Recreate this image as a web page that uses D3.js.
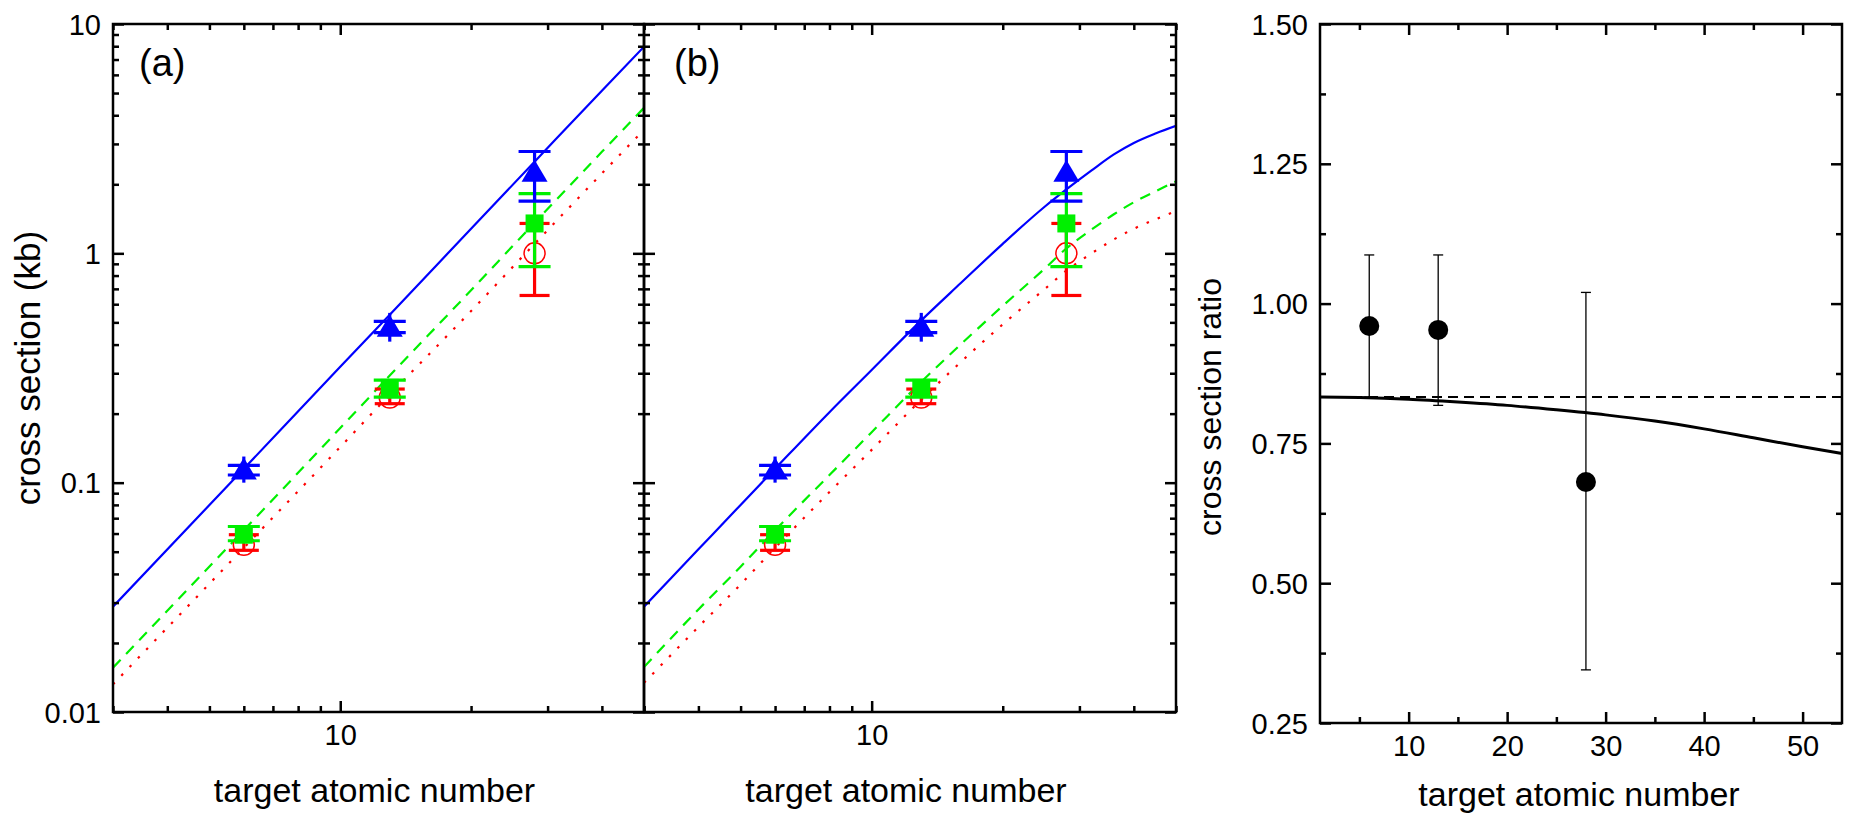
<!DOCTYPE html>
<html>
<head>
<meta charset="utf-8">
<script src="https://cdn.jsdelivr.net/npm/d3@7"></script>
<style>
  body { margin: 0; background: #fff; }
  text { font-family: "Liberation Sans", Arial, sans-serif; fill: #000; }
</style>
</head>
<body>
<svg id="chart" width="1852" height="818"></svg>
<script>
// ---- data ----
const targetZ = [6, 13, 28]

// measured cross sections (kb) with error bar ends
const blueVal = [0.114, 0.479, 2.27]
const blueLo  = [0.108, 0.451, 1.69]
const blueHi  = [0.119, 0.505, 2.78]
// full extent of the blue vertical stem
const blueStemLo = [0.100, 0.412, 1.69]
const blueStemHi = [0.130, 0.55, 2.78]

const greenVal = [0.0593, 0.259, 1.35]
const greenLo  = [0.0558, 0.236, 0.875]
const greenHi  = [0.0644, 0.280, 1.82]

const redVal = [0.0536, 0.235, 1.0]
const redLo  = [0.0507, 0.221, 0.655]
const redHi  = [0.0593, 0.256, 1.35]

// calculated curves, panel (a)
const curveZa      = [3, 6, 10, 13, 20, 28, 40, 50]
const blueCurveA   = [0.0288, 0.115, 0.32, 0.54, 1.28, 2.51, 5.12, 7.96]
const greenCurveA  = [0.0156, 0.062, 0.173, 0.293, 0.69, 1.36, 2.77, 4.31]
const redCurveA    = [0.0132, 0.052, 0.143, 0.242, 0.56, 1.10, 2.23, 3.46]

// calculated curves, panel (b)
const curveZb      = [3, 4, 5, 6, 8, 10, 13, 16, 20, 25, 28, 32, 36, 40, 45, 50]
const blueCurveB   = [0.0288, 0.0512, 0.080, 0.115, 0.203, 0.31, 0.51, 0.74, 1.10, 1.60, 1.90, 2.30, 2.70, 3.03, 3.34, 3.60]
const greenCurveB  = [0.0157, 0.028, 0.043, 0.062, 0.108, 0.166, 0.275, 0.40, 0.59, 0.86, 1.05, 1.27, 1.48, 1.67, 1.87, 2.06]
const redCurveB    = [0.0134, 0.0235, 0.036, 0.052, 0.091, 0.139, 0.23, 0.335, 0.49, 0.70, 0.84, 1.0, 1.15, 1.28, 1.41, 1.53]

// ratio panel
const ratioVal = [0.96, 0.953, 0.681]
const ratioLo  = [0.833, 0.818, 0.345]
const ratioHi  = [1.087, 1.087, 1.020]
const ratioCurveZ = [1, 5, 10, 15, 20, 25, 30, 35, 40, 45, 50, 54]
const ratioCurve  = [0.833, 0.832, 0.829, 0.824, 0.818, 0.810, 0.801, 0.790, 0.776, 0.760, 0.744, 0.732]
const ratioFlatZ  = [1, 54]
const ratioFlat   = [0.833, 0.833]

const logTickLabels = { 0.01: '0.01', 0.1: '0.1', 1: '1', 10: '10' }
const ratioTickLabels = ['0.25', '0.50', '0.75', '1.00', '1.25', '1.50']

// ---- layout ----
const svg = d3.select('#chart')
const panels = [
  { id: 'a', x0: 113, x1: 644, y0: 24, y1: 712 },
  { id: 'b', x0: 644, x1: 1176, y0: 24, y1: 712 }
]
const ratioBox = { x0: 1320, x1: 1842, y0: 24, y1: 723 }

const GREEN = '#00f000'
const tickFont = 29
const titleFont = 34
const isDecade = v => Math.abs(Math.log10(v) - Math.round(Math.log10(v))) < 1e-6

function drawAxes(g, x, y, xMajor, xMinor, yMajor, yMinor, xFmt, yFmt, showY) {
  const [xa, xb] = x.range()
  const [yb, ya] = y.range()
  function ax(fn, scale, vals, len, tr, fmt) {
    const a = g.append('g')
      .attr('transform', tr)
      .call(fn(scale).tickValues(vals).tickSize(len).tickPadding(fmt ? 12 : 0).tickFormat(fmt || ''))
    a.select('.domain').remove()
    a.selectAll('line').attr('stroke', '#000').attr('stroke-width', 2.5)
    a.selectAll('text').attr('font-size', tickFont).attr('fill', '#000')
    return a
  }
  // bottom
  ax(d3.axisBottom, x, xMajor, -11, `translate(0,${yb})`, xFmt)
  ax(d3.axisBottom, x, xMinor, -6, `translate(0,${yb})`)
  // top
  ax(d3.axisTop, x, xMajor, -11, `translate(0,${ya})`)
  ax(d3.axisTop, x, xMinor, -6, `translate(0,${ya})`)
  // left
  const l = ax(d3.axisLeft, y, yMajor, -11, `translate(${xa},0)`, showY ? yFmt : null)
  l.selectAll('text').attr('dy', '0.35em')
  ax(d3.axisLeft, y, yMinor, -6, `translate(${xa},0)`)
  // right
  ax(d3.axisRight, y, yMajor, -11, `translate(${xb},0)`)
  ax(d3.axisRight, y, yMinor, -6, `translate(${xb},0)`)
  g.append('rect')
    .attr('x', xa).attr('y', ya)
    .attr('width', xb - xa).attr('height', yb - ya)
    .attr('fill', 'none').attr('stroke', '#000').attr('stroke-width', 2.5)
}

function errorBars(g, x, y, lo, hi, color, capW, width, stemLo, stemHi) {
  const eb = g.append('g').attr('stroke', color).attr('stroke-width', width)
  targetZ.forEach((z, i) => {
    const cx = x(z)
    const s0 = stemLo ? stemLo[i] : lo[i]
    const s1 = stemHi ? stemHi[i] : hi[i]
    eb.append('line').attr('x1', cx).attr('x2', cx).attr('y1', y(s0)).attr('y2', y(s1))
    eb.append('line').attr('x1', cx - capW / 2).attr('x2', cx + capW / 2).attr('y1', y(lo[i])).attr('y2', y(lo[i]))
    eb.append('line').attr('x1', cx - capW / 2).attr('x2', cx + capW / 2).attr('y1', y(hi[i])).attr('y2', y(hi[i]))
  })
}

panels.forEach((p, k) => {
  const x = d3.scaleLog().domain([3, 50]).range([p.x0, p.x1])
  const y = d3.scaleLog().domain([0.01, 10]).range([p.y1, p.y0])
  const g = svg.append('g')

  const clipId = 'clip-' + p.id
  svg.append('clipPath').attr('id', clipId)
    .append('rect').attr('x', p.x0).attr('y', p.y0).attr('width', p.x1 - p.x0).attr('height', p.y1 - p.y0)

  const zs = k === 0 ? curveZa : curveZb
  const curves = k === 0
    ? [[redCurveA, '#ff0000', '2.5,9.5'], [greenCurveA, GREEN, '11,8'], [blueCurveA, '#0000ff', null]]
    : [[redCurveB, '#ff0000', '2.5,9.5'], [greenCurveB, GREEN, '11,8'], [blueCurveB, '#0000ff', null]]
  const line = d3.line().x(d => x(d[0])).y(d => y(d[1])).curve(d3.curveMonotoneX)
  const lg = g.append('g').attr('clip-path', `url(#${clipId})`)
  curves.forEach(([vals, color, dash]) => {
    lg.append('path')
      .datum(zs.map((z, i) => [z, vals[i]]))
      .attr('d', line)
      .attr('fill', 'none')
      .attr('stroke', color)
      .attr('stroke-width', 2.2)
      .attr('stroke-dasharray', dash)
  })

  // red open circles
  errorBars(g, x, y, redLo, redHi, '#ff0000', 30, 3.2)
  g.append('g').selectAll('circle').data(redVal).join('circle')
    .attr('cx', (d, i) => x(targetZ[i])).attr('cy', d => y(d)).attr('r', 10.5)
    .attr('fill', 'none').attr('stroke', '#ff0000').attr('stroke-width', 1.5)

  // green squares
  errorBars(g, x, y, greenLo, greenHi, GREEN, 32, 3.2)
  g.append('g').selectAll('rect').data(greenVal).join('rect')
    .attr('x', (d, i) => x(targetZ[i]) - 9).attr('y', d => y(d) - 9)
    .attr('width', 18).attr('height', 18).attr('fill', GREEN)

  // blue triangles
  errorBars(g, x, y, blueLo, blueHi, '#0000ff', 32, 3.2, blueStemLo, blueStemHi)
  g.append('g').selectAll('path').data(blueVal).join('path')
    .attr('transform', (d, i) => `translate(${x(targetZ[i])},${y(d)})`)
    .attr('d', 'M0,-12L13,10L-13,10Z')
    .attr('fill', '#0000ff')

  const xMajor = x.ticks().filter(isDecade)
  const xMinor = x.ticks().filter(v => !isDecade(v))
  const yMajor = y.ticks().filter(isDecade)
  const yMinor = y.ticks().filter(v => !isDecade(v))
  drawAxes(g, x, y, xMajor, xMinor, yMajor, yMinor, d3.format('d'), v => logTickLabels[v], k === 0)

  g.append('text').attr('x', p.x0 + (k === 0 ? 26 : 30)).attr('y', 76)
    .attr('font-size', 38).text(`(${p.id})`)
  g.append('text').attr('x', (p.x0 + p.x1) / 2 - 4).attr('y', 802)
    .attr('text-anchor', 'middle').attr('font-size', titleFont).text('target atomic number')
})

svg.append('text')
  .attr('transform', `translate(40,${(24 + 712) / 2}) rotate(-90)`)
  .attr('text-anchor', 'middle').attr('font-size', 35)
  .text('cross section (kb)')

// ---- ratio panel ----
{
  const b = ratioBox
  const x = d3.scaleLinear().domain([1, 54]).range([b.x0, b.x1])
  const y = d3.scaleLinear().domain([0.25, 1.5]).range([b.y1, b.y0])
  const g = svg.append('g')

  const line = d3.line().x(d => x(d[0])).y(d => y(d[1])).curve(d3.curveMonotoneX)
  g.append('path')
    .datum(ratioFlatZ.map((z, i) => [z, ratioFlat[i]]))
    .attr('d', line).attr('fill', 'none').attr('stroke', '#000')
    .attr('stroke-width', 2).attr('stroke-dasharray', '10,6')
  g.append('path')
    .datum(ratioCurveZ.map((z, i) => [z, ratioCurve[i]]))
    .attr('d', line).attr('fill', 'none').attr('stroke', '#000').attr('stroke-width', 3)

  const eb = g.append('g').attr('stroke', '#000').attr('stroke-width', 1.3)
  targetZ.forEach((z, i) => {
    const cx = x(z)
    eb.append('line').attr('x1', cx).attr('x2', cx).attr('y1', y(ratioLo[i])).attr('y2', y(ratioHi[i]))
    ;[ratioLo[i], ratioHi[i]].forEach(v => {
      eb.append('line').attr('x1', cx - 5).attr('x2', cx + 5).attr('y1', y(v)).attr('y2', y(v))
    })
  })
  g.append('g').selectAll('circle').data(ratioVal).join('circle')
    .attr('cx', (d, i) => x(targetZ[i])).attr('cy', d => y(d)).attr('r', 10).attr('fill', '#000')

  const xMajor = [10, 20, 30, 40, 50]
  const xMinor = [5, 15, 25, 35, 45]
  const yMajor = ratioTickLabels.map(Number)
  const yMinor = [0.375, 0.625, 0.875, 1.125, 1.375]
  drawAxes(g, x, y, xMajor, xMinor, yMajor, yMinor, d3.format('d'), d3.format('.2f'), true)

  g.append('text').attr('x', (b.x0 + b.x1) / 2 - 2).attr('y', 806)
    .attr('text-anchor', 'middle').attr('font-size', titleFont).text('target atomic number')
  g.append('text')
    .attr('transform', `translate(1221,407) rotate(-90)`)
    .attr('text-anchor', 'middle').attr('font-size', 32)
    .text('cross section ratio')
}
</script>
</body>
</html>
